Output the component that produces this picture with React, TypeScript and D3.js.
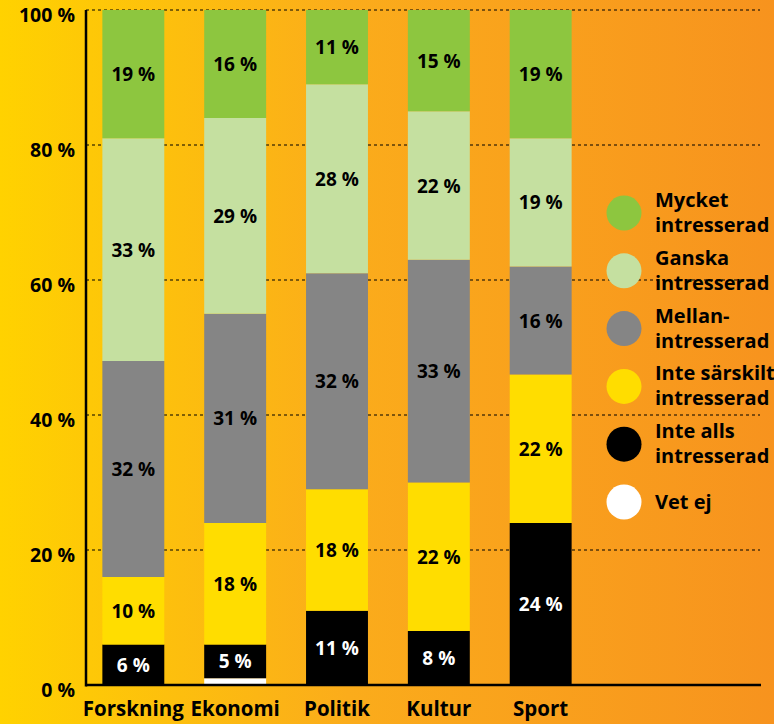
import React from "react";
import * as d3 from "d3";

const categories = ["Forskning", "Ekonomi", "Politik", "Kultur", "Sport"];
const series = [
  "Vet ej",
  "Inte alls intresserad",
  "Inte särskilt intresserad",
  "Mellan-intresserad",
  "Ganska intresserad",
  "Mycket intresserad",
];
// values per series, one number per category (bottom to top)
const vetEj = [0, 1, 0, 0, 0];
const inteAlls = [6, 5, 11, 8, 24];
const inteSarskilt = [10, 18, 18, 22, 22];
const mellan = [32, 31, 32, 33, 16];
const ganska = [33, 29, 28, 22, 19];
const mycket = [19, 16, 11, 15, 19];
const yTicks = [0, 20, 40, 60, 80, 100];

const colors = ["#ffffff", "#000000", "#ffdd00", "#858585", "#c5e0a0", "#8dc63f"];
const legendLines = [
  ["Mycket", "intresserad"],
  ["Ganska", "intresserad"],
  ["Mellan-", "intresserad"],
  ["Inte särskilt", "intresserad"],
  ["Inte alls", "intresserad"],
  ["Vet ej"],
];
const legendColors = ["#8dc63f", "#c5e0a0", "#858585", "#ffdd00", "#000000", "#ffffff"];

const W = 774;
const H = 724;
const font = "'Open Sans', 'Noto Sans', sans-serif";

export default function App() {
  const allSeries = [vetEj, inteAlls, inteSarskilt, mellan, ganska, mycket];
  const rows = categories.map((c, i) => {
    const r: any = { cat: c };
    series.forEach((s, j) => (r[s] = allSeries[j][i]));
    return r;
  });
  const stacked = d3.stack<any>().keys(series)(rows);

  const x = d3.scaleBand().domain(categories).range([82, 592]).paddingInner(0.392).paddingOuter(0.2);
  const y = d3.scaleLinear().domain([0, 100]).range([685, 10]);
  const axisX = 86;

  return (
    <div style={{ position: "absolute", left: 0, top: 0 }}>
      <svg width={W} height={H} style={{ display: "block" }}>
        <defs>
          <linearGradient id="bg" x1="0" x2="1" y1="0" y2="0">
            <stop offset="0" stopColor="#ffd200" />
            <stop offset="0.45" stopColor="#fbac1b" />
            <stop offset="1" stopColor="#f7931e" />
          </linearGradient>
        </defs>
        <rect x={0} y={0} width={W} height={H} fill="url(#bg)" />

        {yTicks.filter((t) => t > 0).map((t) => (
          <line key={t} x1={axisX} x2={760} y1={y(t)} y2={y(t)} stroke="#000" strokeWidth={1} strokeDasharray="3,3" />
        ))}

        {stacked.map((layer, j) => (
          <g key={layer.key} fill={colors[j]}>
            {layer.map((d, i) =>
              d[1] - d[0] > 0 ? (
                <rect key={i} x={x(categories[i])} width={x.bandwidth()} y={y(d[1])} height={y(d[0]) - y(d[1])} />
              ) : null
            )}
          </g>
        ))}

        {stacked.map((layer, j) =>
          j === 0
            ? null
            : layer.map((d, i) => (
                <text
                  key={layer.key + i}
                  x={(x(categories[i]) as number) + x.bandwidth() / 2}
                  y={(y(d[0]) + y(d[1])) / 2 + 7}
                  textAnchor="middle"
                  fontFamily={font}
                  fontWeight={700}
                  fontSize={19}
                  fill={j === 1 ? "#fff" : "#000"}
                >
                  {allSeries[j][i]} %
                </text>
              ))
        )}

        <line x1={axisX} x2={axisX} y1={y(100)} y2={y(0) + 1.5} stroke="#000" strokeWidth={2.5} />
        <line x1={axisX} x2={761} y1={y(0)} y2={y(0)} stroke="#000" strokeWidth={2.5} />

        {yTicks.map((t) => (
          <text key={t} x={75} y={y(t) + 12} textAnchor="end" fontFamily={font} fontWeight={700} fontSize={19.5} fill="#000">
            {t} %
          </text>
        ))}

        {categories.map((c) => (
          <text
            key={c}
            x={(x(c) as number) + x.bandwidth() / 2}
            y={716}
            textAnchor="middle"
            fontFamily={font}
            fontWeight={700}
            fontSize={20.5}
            fill="#000"
          >
            {c}
          </text>
        ))}

        <g>
          {legendLines.map((lines, k) => {
            const cy = 213 + k * 57.8;
            return (
              <g key={k}>
                <circle cx={624} cy={cy} r={17.5} fill={legendColors[k]} />
                {lines.map((ln, m) => (
                  <text
                    key={m}
                    x={655}
                    y={lines.length === 1 ? cy + 7 : cy - 6 + m * 25}
                    fontFamily={font}
                    fontWeight={700}
                    fontSize={20}
                    fill="#000"
                  >
                    {ln}
                  </text>
                ))}
              </g>
            );
          })}
        </g>
      </svg>
    </div>
  );
}
